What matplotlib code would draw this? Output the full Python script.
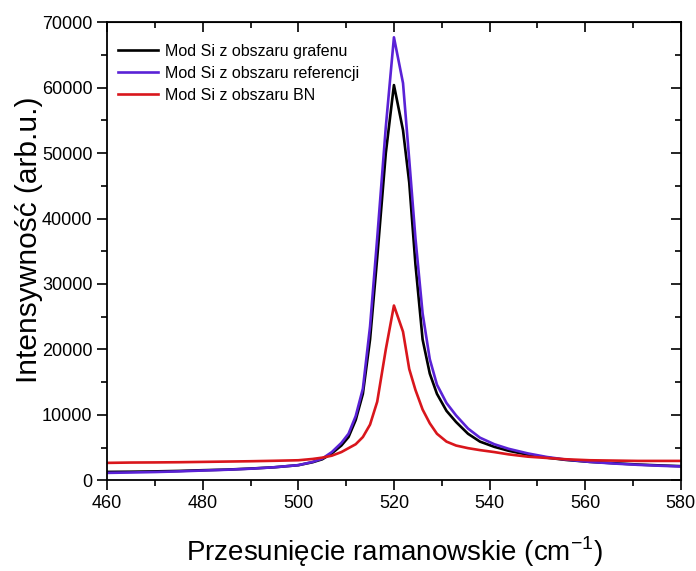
import numpy as np
import matplotlib
matplotlib.use("Agg")
import matplotlib.pyplot as plt
from matplotlib.ticker import MultipleLocator

# Raman shift (cm^-1)
shift = [460, 465, 470, 475, 480, 485, 490, 495, 500, 503, 505, 507, 509, 510.5,
         512, 513.5, 515, 516.5, 518.3, 520, 521.9, 523.2, 524.5, 526, 527.5, 529,
         531, 533, 535.5, 538, 541, 544, 548, 552, 556, 561, 566, 571, 576, 580]

# intensities (thousands)
grafen = [1.27, 1.30, 1.35, 1.42, 1.53, 1.62, 1.78, 1.98, 2.3, 2.75, 3.2, 4.1, 5.3, 6.6,
          9.2, 13.2, 21.5, 34, 50, 60.4, 53.5, 45.5, 33, 21.5, 16.3, 13.2,
          10.6, 8.9, 7.1, 5.9, 5.1, 4.5, 3.9, 3.45, 3.1, 2.8, 2.6, 2.4, 2.25, 2.15]
referencja = [1.12, 1.18, 1.25, 1.35, 1.48, 1.6, 1.76, 1.98, 2.3, 2.8, 3.3, 4.3, 5.7, 7.1,
              9.8, 14.0, 23.5, 37, 54, 67.7, 60.7, 49, 37, 25.5, 18.5, 14.6,
              11.8, 9.9, 7.9, 6.5, 5.5, 4.8, 4.1, 3.55, 3.15, 2.8, 2.55, 2.35, 2.2, 2.1]
bn = [2.65, 2.7, 2.72, 2.75, 2.8, 2.85, 2.9, 2.97, 3.05, 3.25, 3.45, 3.75, 4.3, 4.9,
      5.5, 6.6, 8.5, 12.0, 20, 26.7, 22.7, 17.0, 13.8, 10.8, 8.7, 7.1,
      5.9, 5.3, 4.9, 4.6, 4.3, 3.95, 3.6, 3.4, 3.2, 3.05, 3.0, 2.95, 2.95, 2.95]

labels = ["Mod Si z obszaru grafenu", "Mod Si z obszaru referencji", "Mod Si z obszaru BN"]
colors = ["#000000", "#5a22d6", "#d9161c"]

plt.rcParams["font.family"] = ["Liberation Sans", "DejaVu Sans"]
plt.rcParams["mathtext.fontset"] = "custom"
plt.rcParams["mathtext.rm"] = "Liberation Sans"

fig = plt.figure(figsize=(6.96, 5.71), dpi=100)
ax = fig.add_axes([0.154, 0.159, 0.824, 0.802])

for ys, lab, c in zip([grafen, referencja, bn], labels, colors):
    ax.plot(shift, np.array(ys) * 1000, color=c, lw=1.9, label=lab)

ax.set_xlim(460, 580)
ax.set_ylim(0, 70000)
ax.xaxis.set_major_locator(MultipleLocator(20))
ax.xaxis.set_minor_locator(MultipleLocator(10))
ax.yaxis.set_major_locator(MultipleLocator(10000))
ax.yaxis.set_minor_locator(MultipleLocator(5000))
ax.tick_params(which="major", direction="out", length=7, width=1.2, labelsize=13)
ax.tick_params(which="minor", direction="out", length=4, width=1.2)
for s in ax.spines.values():
    s.set_linewidth(1.3)

# mirrored ticks on top and right, pointing inward
top = ax.secondary_xaxis("top")
top.xaxis.set_major_locator(MultipleLocator(20))
top.xaxis.set_minor_locator(MultipleLocator(10))
top.tick_params(which="major", direction="in", length=7, width=1.2, labeltop=False)
top.tick_params(which="minor", direction="in", length=4, width=1.2)
right = ax.secondary_yaxis("right")
right.yaxis.set_major_locator(MultipleLocator(10000))
right.yaxis.set_minor_locator(MultipleLocator(5000))
right.tick_params(which="major", direction="in", length=7, width=1.2, labelright=False)
right.tick_params(which="minor", direction="in", length=4, width=1.2)

ax.set_xlabel("Przesunięcie ramanowskie (cm$^{-1}$)", fontsize=20, labelpad=16)
ax.set_ylabel("Intensywność (arb.u.)", fontsize=21.5)
ax.yaxis.set_label_coords(-0.112, 0.525)

ax.legend(loc="upper left", frameon=False, prop={"size": 11.5},
          handlelength=2.5, handletextpad=0.4, labelspacing=0.45,
          borderaxespad=0.3, bbox_to_anchor=(0.0, 0.978))

fig.savefig("out.png", dpi=100)
